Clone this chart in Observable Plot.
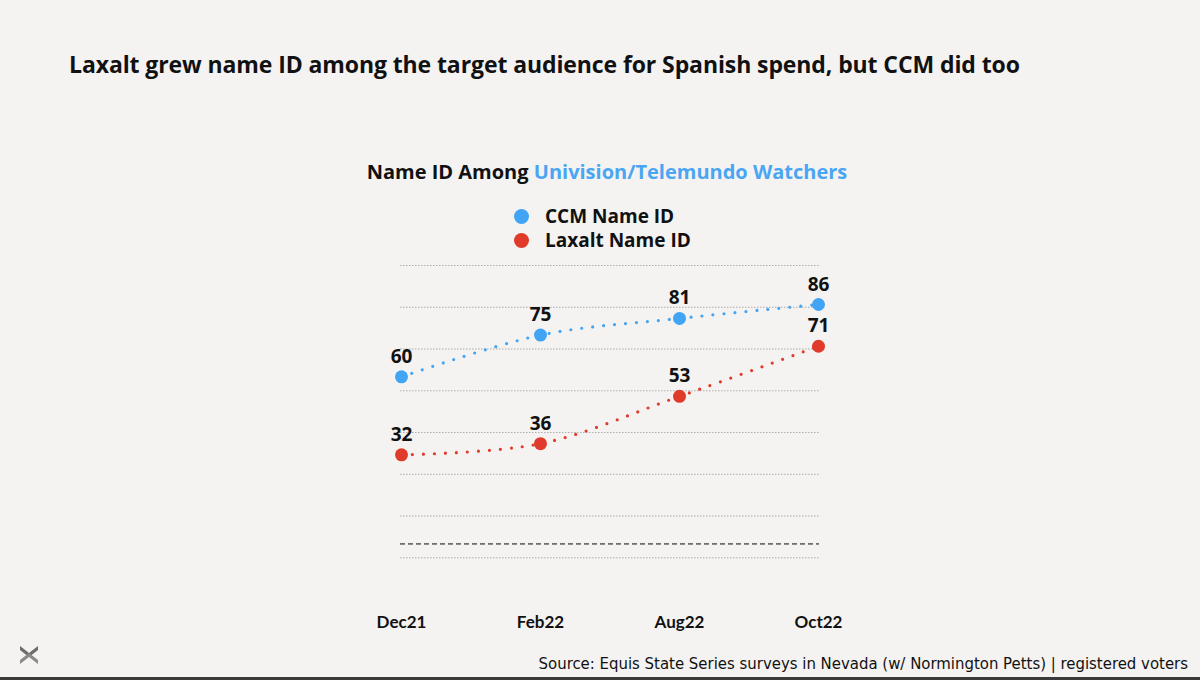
<!DOCTYPE html>
<html>
<head>
<meta charset="utf-8">
<script src="https://cdn.jsdelivr.net/npm/d3@7"></script>
<script src="https://cdn.jsdelivr.net/npm/@observablehq/plot@0.6"></script>
<style>
  html, body { margin: 0; padding: 0; background: #f4f3f1; }
  #page { position: relative; width: 1200px; height: 680px; background: #f4f3f1; overflow: hidden; font-family: "Open Sans", Lato, sans-serif; color: #111; }
  #title { position: absolute; left: 69px; top: 48px; font-size: 23px; font-weight: 700; white-space: nowrap; letter-spacing: -0.1px; }
  #subtitle { position: absolute; left: 0; width: 1214px; top: 158px; text-align: center; font-size: 20px; font-weight: 700; white-space: nowrap; }
  #subtitle .hl { color: #4aa6f2; }
  #legend { position: absolute; left: 514px; top: 204px; font-size: 19px; font-weight: 700; }
  .li { display: flex; align-items: center; height: 24px; }
  .sw { width: 15px; height: 15px; border-radius: 50%; margin-right: 16px; }
  #chart { position: absolute; left: 0; top: 250px; }
  #source { position: absolute; right: 12px; top: 654px; font-size: 16.6px; font-family: "DejaVu Sans Condensed", "Liberation Sans Narrow", sans-serif; white-space: nowrap; color: #111; }
  #bar { position: absolute; left: 0; bottom: 0; width: 1200px; height: 3px; background: #3a3a3a; }
  #logo { position: absolute; left: 18px; top: 644px; }
</style>
</head>
<body>
<div id="page">
  <div id="title">Laxalt grew name ID among the target audience for Spanish spend, but CCM did too</div>
  <div id="subtitle">Name ID Among <span class="hl">Univision/Telemundo Watchers</span></div>
  <div id="legend"></div>
  <div id="chart"></div>
  <svg id="logo" width="22" height="22" viewBox="0 0 22 22"><path d="M2 2 L11 9 L20 2 L20 6 L11 13 L2 6 Z" fill="#6b6b6b"/><path d="M2 20 L11 13 L20 20 L20 16 L11 9 L2 16 Z" fill="#8a8a8a"/></svg>
  <div id="source">Source: Equis State Series surveys in Nevada (w/ Normington Petts) | registered voters</div>
  <div id="bar"></div>
</div>
<script>
const dates = ["Dec21", "Feb22", "Aug22", "Oct22"];
const ccmValues = [60, 75, 81, 86];
const laxaltValues = [32, 36, 53, 71];
const seriesNames = ["CCM Name ID", "Laxalt Name ID"];
const seriesColors = ["#42a4f5", "#e03a2a"];
const gridValues = [-5, 10, 25, 40, 55, 70, 85, 100];
const baselineValues = [0];

const data = [];
dates.forEach((d, i) => data.push({date: d, value: ccmValues[i], series: seriesNames[0]}));
dates.forEach((d, i) => data.push({date: d, value: laxaltValues[i], series: seriesNames[1]}));

const legend = document.getElementById("legend");
seriesNames.forEach((n, i) => {
  const row = document.createElement("div");
  row.className = "li";
  row.innerHTML = `<span class="sw" style="background:${seriesColors[i]}"></span><span>${n}</span>`;
  legend.appendChild(row);
});

const chart = Plot.plot({
  width: 1200,
  height: 390,
  marginLeft: 400,
  marginRight: 381,
  marginTop: 15,
  marginBottom: 82.7,
  style: {background: "transparent", fontFamily: "'Open Sans', Lato, sans-serif"},
  x: {type: "point", domain: dates, padding: 0, label: null},
  y: {domain: [-5, 100], axis: null},
  color: {domain: seriesNames, range: seriesColors},
  marks: [
    Plot.ruleY(gridValues, {stroke: "#9a9a9a", strokeWidth: 1, strokeDasharray: "1.5 1.5", strokeOpacity: 0.8}),
    Plot.ruleY(baselineValues, {stroke: "#6e6e6e", strokeWidth: 1.8, strokeDasharray: "5 3"}),
    Plot.line(data, {x: "date", y: "value", z: "series", stroke: "series", curve: "catmull-rom", strokeWidth: 3.2, strokeDasharray: "0 11", strokeLinecap: "round"}),
    Plot.dot(data, {x: "date", y: "value", fill: "series", r: 6.5}),
    Plot.text(data, {x: "date", y: "value", text: d => String(d.value), dy: -20, fontSize: 19, fontWeight: 700, fill: "#111"}),
    Plot.axisX({tickSize: 0, tickPadding: 58, fontSize: 17, fontWeight: 700, fill: "#111", label: null, fontFamily: "Lato, sans-serif"})
  ]
});
document.getElementById("chart").appendChild(chart);
</script>
</body>
</html>
